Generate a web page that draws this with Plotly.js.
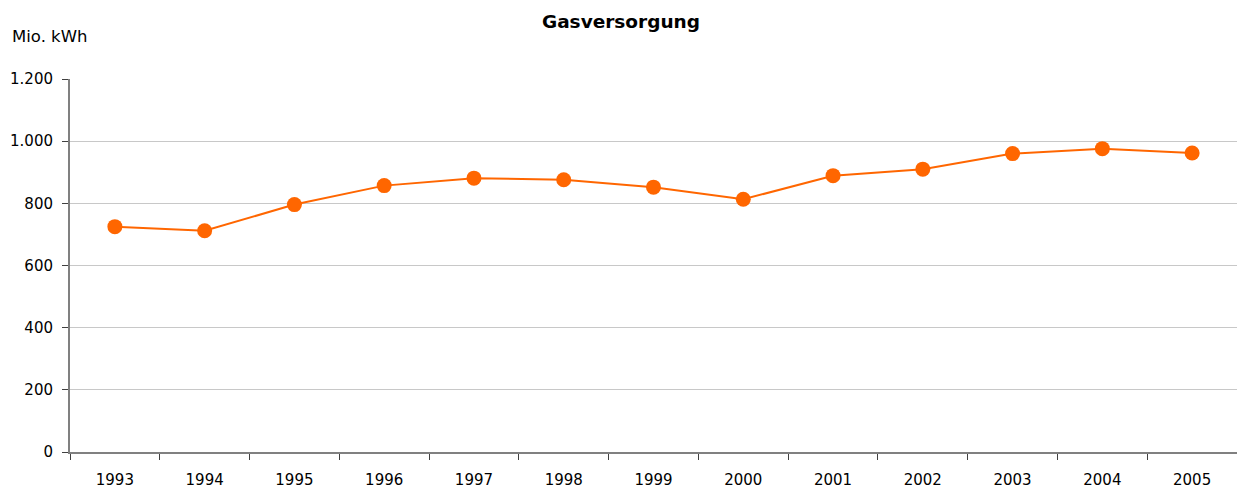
<!DOCTYPE html>
<html>
<head>
<meta charset="utf-8">
<script src="https://cdn.plot.ly/plotly-3.0.1.min.js"></script>
<style>html,body{margin:0;padding:0;background:#fff;}#chart{width:1237px;height:490px;}</style>
</head>
<body>
<div id="chart"></div>
<script>
const years = ['1993','1994','1995','1996','1997','1998','1999','2000','2001','2002','2003','2004','2005'];
const gasVersorgung = [725, 712, 796, 857, 881, 876, 852, 813, 889, 910, 960, 976, 962];
const yTickVals = [0, 200, 400, 600, 800, 1000, 1200];
const yTickText = ['0', '200', '400', '600', '800', '1.000', '1.200'];

const FONT = 'DejaVu Sans, Verdana, sans-serif';

const trace = {
  x: years,
  y: gasVersorgung,
  type: 'scatter',
  mode: 'lines+markers',
  line: {color: '#FF6600', width: 2},
  marker: {color: '#FF6600', size: 15},
  hoverinfo: 'x+y'
};

const layout = {
  width: 1237,
  height: 490,
  margin: {l: 70, r: 0, t: 79, b: 38, pad: 0},
  paper_bgcolor: '#ffffff',
  plot_bgcolor: '#ffffff',
  showlegend: false,
  font: {family: FONT, size: 15, color: '#000000'},
  title: {
    text: '<b>Gasversorgung</b>',
    font: {family: FONT, size: 18.5, color: '#000000'},
    x: (621 - 70) / 1167, xanchor: 'center',
    y: 1 - 22/490, yanchor: 'middle',
    xref: 'paper', yref: 'container'
  },
  xaxis: {
    type: 'category',
    range: [-0.5, 12.5],
    tickson: 'boundaries',
    ticks: 'outside',
    ticklen: 6,
    tickcolor: '#404040',
    tickwidth: 1,
    ticklabelstandoff: 13,
    showline: true,
    linecolor: '#808080',
    linewidth: 2,
    showgrid: false,
    zeroline: false,
    tickfont: {family: FONT, size: 15, color: '#000000'},
    fixedrange: true
  },
  yaxis: {
    range: [0, 1200],
    tickvals: yTickVals,
    ticktext: yTickText,
    ticks: 'outside',
    ticklen: 6,
    tickcolor: '#404040',
    ticklabelstandoff: 6,
    showline: true,
    linecolor: '#808080',
    linewidth: 2,
    showgrid: true,
    gridcolor: '#c8c8c8',
    gridwidth: 1,
    zeroline: false,
    tickfont: {family: FONT, size: 15, color: '#000000'},
    fixedrange: true
  },
  annotations: [{
    text: 'Mio. kWh',
    xref: 'paper', yref: 'paper',
    x: -60/1167, y: 1 + (79-37)/373,
    xanchor: 'left', yanchor: 'middle',
    showarrow: false,
    font: {family: FONT, size: 16.5, color: '#000000'}
  }]
};

Plotly.newPlot('chart', [trace], layout, {displayModeBar: false, staticPlot: true});
</script>
</body>
</html>
